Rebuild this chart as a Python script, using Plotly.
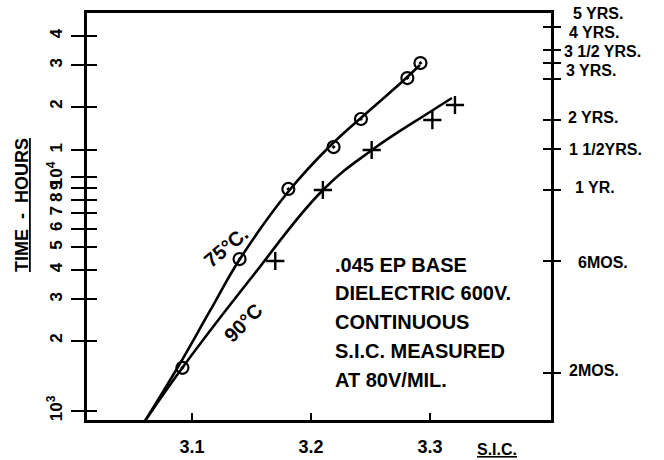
import plotly.graph_objects as go

# ---------------- data ----------------
# measured points, 75 °C (circles)
sic_75 = [3.092, 3.140, 3.181, 3.219, 3.242, 3.281, 3.292]
hrs_75 = [1530, 4460, 8890, 13430, 17700, 26490, 30700]
# measured points, 90 °C (crosses)
sic_90 = [3.170, 3.210, 3.251, 3.302, 3.321]
hrs_90 = [4375, 8800, 13045, 17520, 20310]
# faired curves
curve75_sic = [3.0605, 3.0882, 3.1151, 3.1403, 3.1807, 3.2160, 3.2496, 3.2773, 3.2916]
curve75_hrs = [906, 1542, 2676, 4462, 8629, 13570, 19338, 25719, 30100]
curve90_sic = [3.0605, 3.0924, 3.1504, 3.2101, 3.2513, 3.3000, 3.3185]
curve90_hrs = [906, 1542, 3737, 8800, 13045, 18960, 21760]

# left axis (hours)
left_tickvals = [1000, 2000, 3000, 4000, 5000, 6000, 7000, 8000, 9000, 10000, 13000, 20000, 30000, 40000]
left_ticktext = ["10<sup>3</sup>", "2", "3", "4", "5", "6", "7", "8", "9", "10<sup>4</sup>", "1", "2", "3", "4"]
# right axis (equivalent times, in hours)
right_tickvals = [43800, 35040, 30660, 26280, 17520, 13140, 8760, 4380, 1460]
right_ticktext = ["5 YRS.", "4 YRS.", "3 1/2 YRS.", "3 YRS.", "2 YRS.", "1 1/2YRS.", "1 YR.", "6MOS.", "2MOS."]
x_tickvals = [3.1, 3.2, 3.3]
x_ticktext = ["3.1", "3.2", "3.3"]

note_lines = [".045 EP BASE", "DIELECTRIC 600V.", "CONTINUOUS", "S.I.C. MEASURED", "AT 80V/MIL."]

# ---------------- layout constants ----------------
FONT = "Liberation Sans"
YR = [2.9615, 4.701]
XR = [3.0118, 3.4017]
L, R, T, B, W, H = 87, 113, 13, 40, 664, 460
PW, PH = W - L - R, H - T - B


def px_x(p):
    return (p - L) / PW


def px_y(p):
    return (H - B - p) / PH


# vertical pixel centres of right-hand labels (crowded labels are spread out as in the original)
right_label_py = [14, 32, 51, 70, 118, 150, 188, 262, 370]
right_label_px = [571, 567, 562, 564, 566, 567, 573, 576, 567]

fig = go.Figure()
fig.add_trace(go.Scatter(x=curve75_sic, y=curve75_hrs, mode="lines",
                         line=dict(color="black", width=2.6, shape="spline", smoothing=1.2),
                         showlegend=False, hoverinfo="skip"))
fig.add_trace(go.Scatter(x=curve90_sic, y=curve90_hrs, mode="lines",
                         line=dict(color="black", width=2.6, shape="spline", smoothing=1.2),
                         showlegend=False, hoverinfo="skip"))
fig.add_trace(go.Scatter(x=sic_75, y=hrs_75, mode="markers",
                         marker=dict(symbol="circle-open-dot", size=12, color="black",
                                     line=dict(width=2.2, color="black")),
                         showlegend=False))
fig.add_trace(go.Scatter(x=sic_90, y=hrs_90, mode="markers",
                         marker=dict(symbol="cross-thin-open", size=13, color="black",
                                     line=dict(width=2.4, color="black")),
                         showlegend=False))
# carriers for the overlaid axes
for ya in ["y2", "y3", "y4"]:
    fig.add_trace(go.Scatter(x=[None], y=[None], yaxis=ya, showlegend=False, hoverinfo="skip"))

common_y = dict(type="log", range=YR, showgrid=False, zeroline=False, automargin=False)
fig.update_layout(
    template="none",
    width=W, height=H,
    margin=dict(l=L, r=R, t=T, b=B, pad=0),
    paper_bgcolor="white", plot_bgcolor="white",
    font=dict(family=FONT, color="black"),
    showlegend=False,
    xaxis=dict(range=XR, tickvals=x_tickvals, ticktext=x_ticktext, ticks="inside", ticklen=7, tickwidth=2,
               tickcolor="black", showline=True, linewidth=2.6, linecolor="black", mirror=True,
               showgrid=False, zeroline=False, automargin=False,
               tickfont=dict(size=18, family=FONT, weight="bold"), ticklabelstandoff=9),
    yaxis=dict(**common_y, tickvals=left_tickvals, ticktext=left_ticktext, ticks="outside", ticklen=13,
               tickwidth=2, tickcolor="black", tickangle=-90,
               tickfont=dict(size=17, family=FONT, weight="bold"),
               showline=True, linewidth=2.6, linecolor="black", mirror=True, ticklabelstandoff=2),
    yaxis3=dict(**common_y, overlaying="y", side="left", tickvals=left_tickvals, ticks="inside", ticklen=10,
                tickwidth=2, tickcolor="black", showticklabels=False, showline=False),
    yaxis2=dict(**common_y, overlaying="y", side="right", tickvals=right_tickvals,
                ticks="outside", ticklen=9, tickwidth=2, tickcolor="black", showticklabels=False,
                showline=False),
    yaxis4=dict(**common_y, overlaying="y", side="right", tickvals=right_tickvals, ticks="inside", ticklen=8,
                tickwidth=2, tickcolor="black", showticklabels=False, showline=False),
)

ann = []
for t, py, pxl in zip(right_ticktext, right_label_py, right_label_px):
    ann.append(dict(xref="paper", yref="paper", x=px_x(pxl), y=px_y(py), text=t, xanchor="left",
                    yanchor="middle", showarrow=False, font=dict(size=16, family=FONT, weight="bold")))
ann.append(dict(xref="paper", yref="paper", x=px_x(22), y=px_y(205), text="TIME  -  HOURS", textangle=-90,
                xanchor="center", yanchor="middle",
                showarrow=False, font=dict(size=18, family=FONT, weight="bold", lineposition="under")))
ann.append(dict(xref="paper", yref="paper", x=px_x(497), y=px_y(449), text="S.I.C.", showarrow=False,
                xanchor="center", yanchor="middle",
                font=dict(size=16, family=FONT, weight="bold", lineposition="under")))
ann.append(dict(xref="paper", yref="paper", x=px_x(226), y=px_y(247), text="75°C.", textangle=-40,
                xanchor="center", yanchor="middle",
                showarrow=False, font=dict(size=20, family=FONT, weight="bold")))
ann.append(dict(xref="paper", yref="paper", x=px_x(243), y=px_y(323), text="90°C", textangle=-45,
                xanchor="center", yanchor="middle",
                showarrow=False, font=dict(size=20, family=FONT, weight="bold")))
note_py = [265, 293, 322, 351, 380]
for t, py in zip(note_lines, note_py):
    ann.append(dict(xref="paper", yref="paper", x=px_x(333), y=px_y(py), text=t, xanchor="left",
                    yanchor="middle", showarrow=False, font=dict(size=20, family=FONT, weight="bold")))
fig.update_layout(annotations=ann)

fig.write_html("out.html")
